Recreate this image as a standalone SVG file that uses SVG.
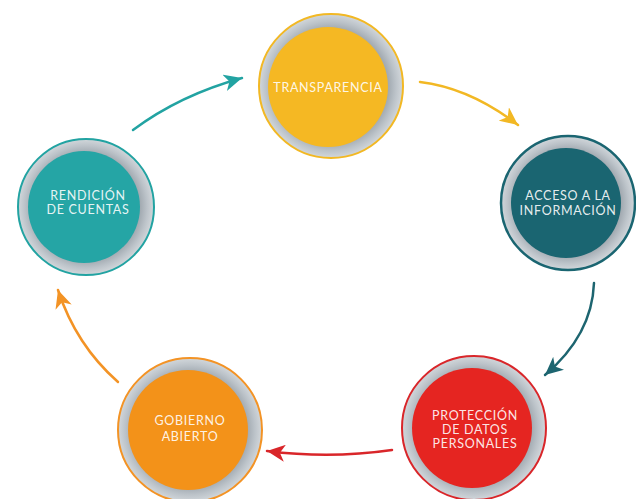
<svg xmlns="http://www.w3.org/2000/svg" width="636" height="499" viewBox="0 0 636 499">
<style>
.lbl{font-family:Lato,"Open Sans","Liberation Sans",sans-serif;font-size:12.5px;fill:#ffffff;fill-opacity:0.9;text-anchor:middle;letter-spacing:0.7px}
.ring{fill:url(#ringGrad)}
.arr{fill:none;stroke-width:2.5;stroke-linecap:round}
</style>
<defs>
<radialGradient id="ringGrad" cx="0.5" cy="0.5" r="0.5">
<stop offset="0.8" stop-color="#a3abb2"/>
<stop offset="0.9" stop-color="#bcc3c9"/>
<stop offset="1" stop-color="#d2d7db"/>
</radialGradient>
<marker id="mY" markerUnits="userSpaceOnUse" markerWidth="19" markerHeight="17" refX="18" refY="8.5" orient="auto"><path d="M0,0 L18,8.5 L0,17 L5,8.5 z" fill="#f2b824"/></marker>
<marker id="mD" markerUnits="userSpaceOnUse" markerWidth="19" markerHeight="17" refX="18" refY="8.5" orient="auto"><path d="M0,0 L18,8.5 L0,17 L5,8.5 z" fill="#1d6570"/></marker>
<marker id="mR" markerUnits="userSpaceOnUse" markerWidth="19" markerHeight="17" refX="18" refY="8.5" orient="auto"><path d="M0,0 L18,8.5 L0,17 L5,8.5 z" fill="#d9262a"/></marker>
<marker id="mO" markerUnits="userSpaceOnUse" markerWidth="19" markerHeight="17" refX="18" refY="8.5" orient="auto"><path d="M0,0 L18,8.5 L0,17 L5,8.5 z" fill="#f39325"/></marker>
<marker id="mT" markerUnits="userSpaceOnUse" markerWidth="19" markerHeight="17" refX="18" refY="8.5" orient="auto"><path d="M0,0 L18,8.5 L0,17 L5,8.5 z" fill="#22a3a2"/></marker>
</defs>
<rect width="636" height="499" fill="#ffffff"/>
<g id="connectors">
<path class="arr" d="M420,82 Q470,88 518,125" stroke="#f2b824" marker-end="url(#mY)"/>
<path class="arr" d="M594,283 Q592,335 545,375" stroke="#1d6570" marker-end="url(#mD)"/>
<path class="arr" d="M392,450 Q330,459 267,451" stroke="#d9262a" marker-end="url(#mR)"/>
<path class="arr" d="M118,382 Q76,345 58,290" stroke="#f39325" marker-end="url(#mO)"/>
<path class="arr" d="M133,130 Q180,95 242,78" stroke="#22a3a2" marker-end="url(#mT)"/>
</g>
<g id="transparencia">
<circle cx="331" cy="86" r="72" class="ring" stroke="#f2b824" stroke-width="2"/>
<circle cx="328" cy="87" r="60" fill="#f5b823"/>
<text class="lbl" x="328" y="92">TRANSPARENCIA</text>
</g>
<g id="acceso">
<circle cx="568" cy="203" r="67" class="ring" stroke="#1a6571" stroke-width="2.5"/>
<circle cx="566" cy="203" r="55" fill="#1a6571"/>
<text class="lbl" x="568" y="200">ACCESO A LA</text>
<text class="lbl" x="568" y="215">INFORMACIÓN</text>
</g>
<g id="proteccion">
<circle cx="474" cy="428" r="72" class="ring" stroke="#d9262a" stroke-width="2"/>
<circle cx="472" cy="428" r="60" fill="#e52521"/>
<text class="lbl" x="475" y="420">PROTECCIÓN</text>
<text class="lbl" x="475" y="434">DE DATOS</text>
<text class="lbl" x="475" y="448">PERSONALES</text>
</g>
<g id="gobierno">
<circle cx="190" cy="430" r="72" class="ring" stroke="#f39325" stroke-width="2"/>
<circle cx="188" cy="430" r="60" fill="#f39219"/>
<text class="lbl" x="190" y="425">GOBIERNO</text>
<text class="lbl" x="190" y="441">ABIERTO</text>
</g>
<g id="rendicion">
<circle cx="86" cy="207" r="68" class="ring" stroke="#22a3a2" stroke-width="2"/>
<circle cx="84" cy="207" r="56" fill="#25a5a5"/>
<text class="lbl" x="88" y="200">RENDICIÓN</text>
<text class="lbl" x="88" y="214">DE CUENTAS</text>
</g>
</svg>
